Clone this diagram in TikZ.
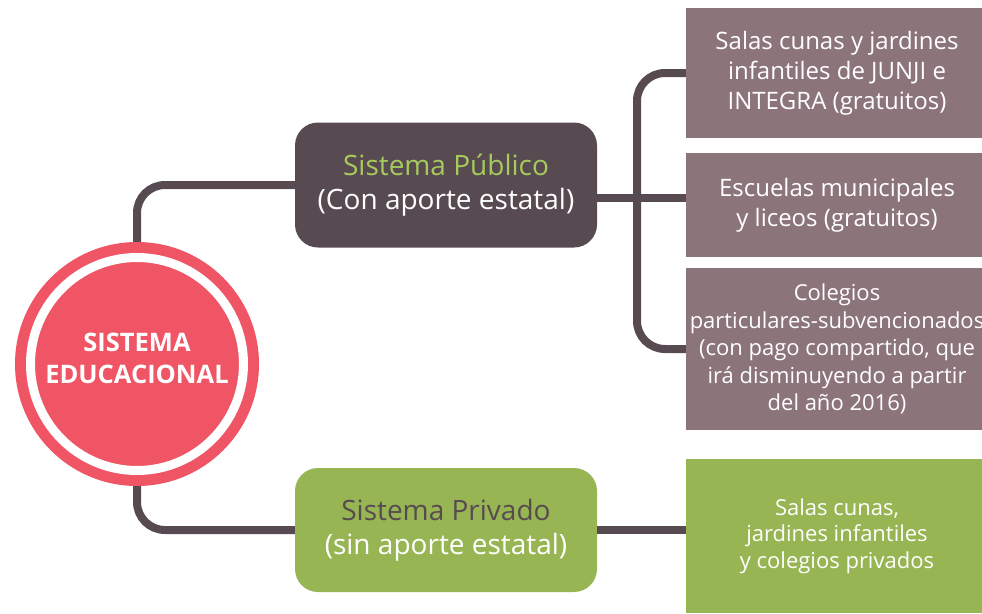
\documentclass[tikz,border=0pt]{standalone}
\usepackage{fontspec}
\setmainfont{Open Sans}
\usetikzlibrary{positioning}
\definecolor{eduRed}{HTML}{F05565}
\definecolor{eduDark}{HTML}{584A51}
\definecolor{eduMauve}{HTML}{8C747B}
\definecolor{eduGreen}{HTML}{97B653}
\definecolor{eduLight}{HTML}{A6CB5C}
\begin{document}
\begin{tikzpicture}
[x=1pt,y=-1pt,
  lineDecorate/.style={-,line width=8pt,draw=eduDark,rounded corners=28pt},%
  systemDecorate/.style={shape=rectangle,rounded corners=23pt,minimum width=302pt,
    minimum height=125pt,align=center,font=\fontsize{28}{34}\selectfont},%
  leafDecorate/.style={shape=rectangle,minimum width=302pt,inner xsep=0pt,align=center,
    text=white,fill=eduMauve,font=\fontsize{24}{30}\selectfont}]
\useasboundingbox (0,0) rectangle (982,613);
\clip (0,0) rectangle (982,613);
%% root circle
\node (edu) at (137,364) [shape=circle,fill=eduRed,minimum size=244pt,inner sep=0pt] {};
\draw[white,line width=9pt] (edu.center) circle (106.5);
\node at ([yshift=6pt]edu.center) [align=center,text=white,
  font=\bfseries\fontsize{25.5}{32}\selectfont] {SISTEMA\\EDUCACIONAL};
%% systems
\node (pub) at (446,185) [systemDecorate,fill=eduDark]
  {\textcolor{eduLight}{Sistema Público}\\\textcolor{white}{(Con aporte estatal)}};
\node (priv) at (446,530) [systemDecorate,fill=eduGreen,minimum height=124pt]
  {\textcolor{eduDark}{Sistema Privado}\\\textcolor{white}{(sin aporte estatal)}};
%% leaves
\node (junji) at (837,73) [leafDecorate,minimum height=130pt]
  {Salas cunas y jardines\\infantiles de JUNJI e\\INTEGRA (gratuitos)};
\node (muni) at (837,205) [leafDecorate,minimum height=104pt]
  {Escuelas municipales\\y liceos (gratuitos)};
\node (subv) at (837,349) [leafDecorate,minimum height=162pt,
  font=\fontsize{22}{27.5}\selectfont]
  {Colegios\\particulares-subvencionados\\(con pago compartido, que\\irá disminuyendo a partir\\del año 2016)};
\node (priva) at (837,536) [leafDecorate,fill=eduGreen,minimum height=154pt,
  font=\fontsize{22}{26.5}\selectfont]
  {Salas cunas,\\jardines infantiles\\y colegios privados};
%% edges or lines
\coordinate (bar) at (637,0);
\coordinate (mid) at ([yshift=-13pt]pub.east);
\draw[lineDecorate] (edu.north) |- (pub.west);
\draw[lineDecorate] (edu.south) |- (priv.west);
\draw[lineDecorate] (junji.west) -- (junji.west -| bar) -- (subv.west -| bar) -- (subv.west);
\draw[lineDecorate] (mid) -- (mid -| muni.west);
\draw[lineDecorate] (priv.east) -- (priv.east -| priva.west);
\end{tikzpicture}
\end{document}
